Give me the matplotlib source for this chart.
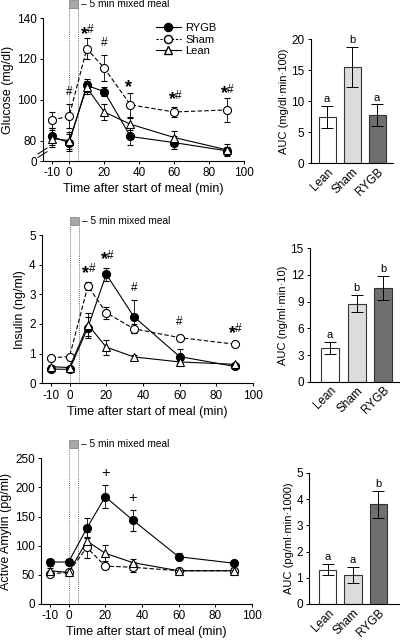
import matplotlib
matplotlib.use('Agg')
import matplotlib.pyplot as plt
import matplotlib.transforms as mtransforms
from matplotlib.lines import Line2D

plt.rcParams['font.family'] = ['Liberation Sans', 'DejaVu Sans']
plt.rcParams['axes.linewidth'] = 0.8
plt.rcParams['axes.unicode_minus'] = False

# time points (min after start of meal)
time = [-10, 0, 10, 20, 35, 60, 90]

# glucose (mg/dl)
glu_rygb = [82, 79, 107, 104, 82, 79, 75]
glu_rygb_err = [4, 4, 3, 2, 4, 3, 2]
glu_sham = [90, 92, 125, 115.5, 97.5, 94, 95]
glu_sham_err = [4, 6, 5, 6.5, 6, 2.5, 6]
glu_lean = [81, 80, 106, 94, 88, 81.5, 75.5]
glu_lean_err = [4, 4, 3, 4, 3, 3, 3]

# insulin (ng/ml)
ins_rygb = [0.48, 0.47, 1.88, 3.68, 2.25, 0.9, 0.57]
ins_rygb_err = [0.05, 0.05, 0.35, 0.22, 0.55, 0.27, 0.05]
ins_sham = [0.86, 0.9, 3.28, 2.38, 1.84, 1.54, 1.32]
ins_sham_err = [0.05, 0.05, 0.15, 0.2, 0.15, 0.08, 0.05]
ins_lean = [0.56, 0.53, 1.98, 1.22, 0.89, 0.72, 0.64]
ins_lean_err = [0.05, 0.05, 0.38, 0.25, 0.08, 0.05, 0.05]

# active amylin (pg/ml)
amy_rygb = [72, 72, 130, 184, 144, 81, 70]
amy_rygb_err = [6, 5, 17, 20, 18, 6, 4]
amy_sham = [52, 54, 97, 65, 63, 57, 57]
amy_sham_err = [4, 4, 18, 5, 9, 4, 5]
amy_lean = [57, 54, 108, 87, 71, 57, 57]
amy_lean_err = [4, 4, 15, 14, 7, 4, 4]

# AUC bars
groups = ['Lean', 'Sham', 'RYGB']
auc_glu = [7.4, 15.5, 7.7]
auc_glu_err = [1.8, 3.2, 1.75]
auc_glu_letters = ['a', 'b', 'a']
auc_ins = [3.8, 8.75, 10.55]
auc_ins_err = [0.7, 0.95, 1.37]
auc_ins_letters = ['a', 'b', 'b']
auc_amy = [1.31, 1.11, 3.8]
auc_amy_err = [0.2, 0.3, 0.5]
auc_amy_letters = ['a', 'a', 'b']

# significance marks (time, label, height)
glu_marks = [(0, '#', 104), (10, '*#', 134), (20, '#', 128), (35, '*', 108), (60, '*#', 102), (90, '*#', 105)]
ins_marks = [(10, '*#', 3.85), (20, '*#', 4.3), (35, '#', 3.2), (60, '#', 2.07), (90, '*#', 1.82)]
amy_marks = [(20, '+', 224), (35, '+', 181)]

bar_colors = ['white', '#dcdcdc', '#6f6f6f']

fig = plt.figure(figsize=(4.0, 6.43), dpi=100)


def style_axes(ax):
    ax.spines['top'].set_visible(False)
    ax.spines['right'].set_visible(False)
    ax.tick_params(direction='out', length=2.5, width=0.7, labelsize=8.5, pad=2)


def draw_mark(ax, x, label, y):
    if label.startswith('*'):
        ax.annotate('*', (x, y), xytext=(1, -3), textcoords='offset points',
                    fontsize=13, fontweight='bold', ha='right', va='center')
        if '#' in label:
            ax.annotate('#', (x, y), xytext=(0.5, 0), textcoords='offset points',
                        fontsize=8.5, ha='left', va='center')
    elif label == '+':
        ax.text(x, y, '+', fontsize=10.5, ha='center', va='center')
    else:
        ax.text(x, y, label, fontsize=8.5, ha='center', va='center')


def time_course(rect, ylim, yticks, yticklabels, ylabel, series, marks):
    ax = fig.add_axes(rect)
    style_axes(ax)
    h_px = rect[3] * 643
    trans = mtransforms.blended_transform_factory(ax.transData, ax.transAxes)
    b0 = 1 + 10 / h_px
    bh = 8.5 / h_px
    # meal period
    for xv in (0, 5):
        ax.plot([xv, xv], [0, b0], transform=trans, color='#777777', lw=0.7,
                ls=(0, (1, 1)), clip_on=False, zorder=1)
    box = plt.Rectangle((0, b0), 5, bh, transform=trans, facecolor='#a8a8a8',
                        edgecolor='#888888', lw=0.6, clip_on=False)
    ax.add_patch(box)
    ax.text(7, b0 + bh / 2, '\u2013 5 min mixed meal', transform=trans, fontsize=7.3,
            va='center', ha='left')
    for y, err, marker, ls, fc, name in series:
        ax.errorbar(time, y, yerr=err, color='black', lw=0.8, ls=ls, marker=marker,
                    ms=5.8, mfc=fc, mec='black', mew=0.8, ecolor='black',
                    elinewidth=0.6, capsize=2, capthick=0.6, label=name,
                    dashes=(4, 2) if ls == '--' else (None, None))
    for x, label, y in marks:
        draw_mark(ax, x, label, y)
    ax.set_xlim(-15, 100)
    ax.set_xticks([-10, 0, 20, 40, 60, 80, 100])
    ax.set_ylim(*ylim)
    ax.set_yticks(yticks)
    ax.set_yticklabels(yticklabels)
    ax.set_xlabel('Time after start of meal (min)', fontsize=9, labelpad=3)
    ax.set_ylabel(ylabel, fontsize=9, labelpad=2)
    return ax


def auc_bars(rect, xlim, values, errs, letters, ylim, yticks, ylabel):
    ax = fig.add_axes(rect)
    style_axes(ax)
    pos = list(range(len(groups)))
    ax.bar(pos, values, width=0.68, color=bar_colors, edgecolor='#333333', lw=0.8)
    ax.errorbar(pos, values, yerr=errs, fmt='none', ecolor='black', elinewidth=0.7,
                capsize=4, capthick=0.7)
    for p, v, e, l in zip(pos, values, errs, letters):
        ax.text(p, v + e + (ylim[1] - ylim[0]) * 0.015, l, fontsize=8,
                ha='center', va='bottom')
    ax.set_xlim(*xlim)
    ax.set_ylim(*ylim)
    ax.set_yticks(yticks)
    ax.set_xticks(pos)
    ax.set_xticklabels(groups, rotation=45, ha='right', rotation_mode='anchor', fontsize=8.5)
    ax.tick_params(axis='x', length=0)
    ax.set_ylabel(ylabel, fontsize=8, labelpad=2)
    return ax


def series_for(rygb, rygb_e, sham, sham_e, lean, lean_e):
    return [(rygb, rygb_e, 'o', '-', 'black', 'RYGB'),
            (sham, sham_e, 'o', '--', 'white', 'Sham'),
            (lean, lean_e, '^', '-', 'white', 'Lean')]


# glucose
ax1 = time_course([0.1075, 0.7496, 0.503, 0.2224], (70, 140), [70, 80, 100, 120, 140],
                  ['0', '80', '100', '120', '140'], 'Glucose (mg/dl)',
                  series_for(glu_rygb, glu_rygb_err, glu_sham, glu_sham_err,
                             glu_lean, glu_lean_err), glu_marks)
# axis break
for dy in (0.0, 0.025):
    ax1.plot([-0.025, 0.02], [0.025 + dy, 0.065 + dy], transform=ax1.transAxes,
             color='black', lw=0.7, clip_on=False)
handles = [Line2D([], [], color='black', lw=0.8, marker='o', ms=5.8, mfc='black', mec='black'),
           Line2D([], [], color='black', lw=0.8, ls='--', dashes=(2, 1.5), marker='o', ms=5.8,
                  mfc='white', mec='black'),
           Line2D([], [], color='black', lw=0.8, marker='^', ms=5.8, mfc='white', mec='black')]
ax1.legend(handles, ['RYGB', 'Sham', 'Lean'], loc='upper right', bbox_to_anchor=(0.9, 1.02),
           frameon=False, fontsize=8, handlelength=2.2, handletextpad=0.4,
           labelspacing=0.15, borderpad=0.2)

# insulin
time_course([0.105, 0.4039, 0.5275, 0.2306], (0, 5), [0, 1, 2, 3, 4, 5],
            ['0', '1', '2', '3', '4', '5'], 'Insulin (ng/ml)',
            series_for(ins_rygb, ins_rygb_err, ins_sham, ins_sham_err,
                       ins_lean, ins_lean_err), ins_marks)

# amylin
time_course([0.1025, 0.0607, 0.5275, 0.2266], (0, 250), [0, 50, 100, 150, 200, 250],
            ['0', '50', '100', '150', '200', '250'], 'Active Amylin (pg/ml)',
            series_for(amy_rygb, amy_rygb_err, amy_sham, amy_sham_err,
                       amy_lean, amy_lean_err), amy_marks)

auc_bars([0.777, 0.7465, 0.2058, 0.1928], (-0.65, 2.64), auc_glu, auc_glu_err,
         auc_glu_letters, (0, 20), [0, 5, 10, 15, 20], 'AUC (mg/dl\u00b7min\u00b7100)')
auc_bars([0.775, 0.4064, 0.225, 0.2074], (-0.75, 2.63), auc_ins, auc_ins_err,
         auc_ins_letters, (0, 15), [0, 3, 6, 9, 12, 15], 'AUC (ng/ml\u00b7min\u00b710)')
auc_bars([0.773, 0.0607, 0.227, 0.2037], (-0.73, 2.85), auc_amy, auc_amy_err,
         auc_amy_letters, (0, 5), [0, 1, 2, 3, 4, 5], 'AUC (pg/ml\u00b7min\u00b71000)')

fig.savefig('out.png', dpi=100)
